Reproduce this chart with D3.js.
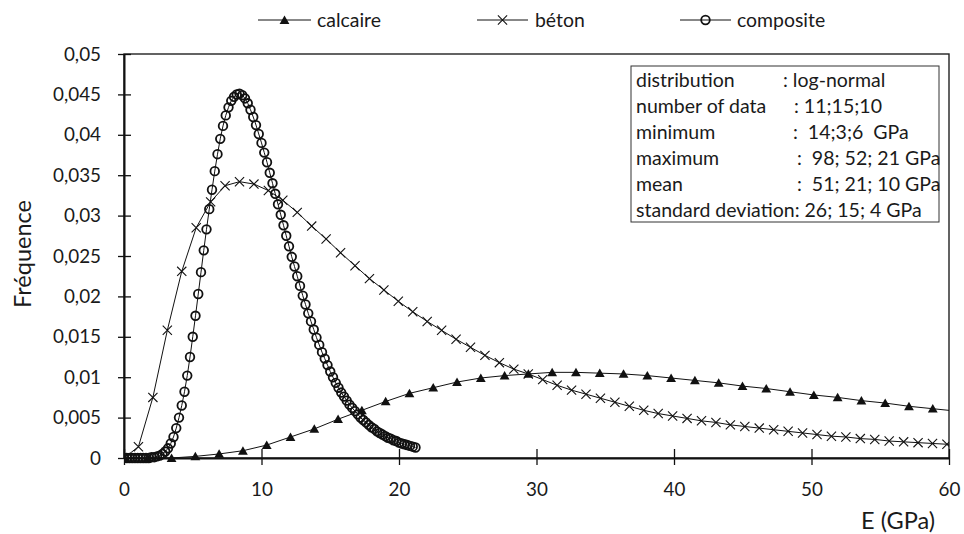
<!DOCTYPE html>
<html><head><meta charset="utf-8">
<script src="https://cdn.jsdelivr.net/npm/d3@7"></script>
<style>
html,body{margin:0;padding:0;background:#fff;}
svg{display:block;font-family:Lato,'Open Sans',sans-serif;}
text{fill:#1a1a1a;white-space:pre;}
</style></head><body>
<svg id="chart" width="964" height="534"></svg>
<script>
// ---------- DATA ----------
const seriesNames = ["calcaire", "béton", "composite"];

const calcaireX = [0, 1.73, 3.46, 5.19, 6.92, 8.65, 10.38, 12.11, 13.84, 15.57, 17.3, 19.03, 20.76, 22.49, 24.22, 25.95, 27.68, 29.41, 31.14, 32.87, 34.6, 36.33, 38.06, 39.79, 41.52, 43.25, 44.98, 46.71, 48.44, 50.17, 51.9, 53.63, 55.36, 57.09, 58.82, 60.55];
const calcaireY = [0, 0, 0, 0.0002, 0.0005, 0.0009, 0.0016, 0.0026, 0.0036, 0.0048, 0.0059, 0.0070, 0.0080, 0.0087, 0.0094, 0.0099, 0.0102, 0.0104, 0.0106, 0.0106, 0.0105, 0.0104, 0.0102, 0.0099, 0.0096, 0.0093, 0.0089, 0.0086, 0.0082, 0.0078, 0.0075, 0.0071, 0.0068, 0.0064, 0.0061, 0.0058];

const betonX = [0, 1.05, 2.1, 3.15, 4.2, 5.25, 6.3, 7.35, 8.4, 9.45, 10.5, 11.55, 12.6, 13.65, 14.7, 15.75, 16.8, 17.85, 18.9, 19.95, 21, 22.05, 23.1, 24.15, 25.2, 26.25, 27.3, 28.35, 29.4, 30.45, 31.5, 32.55, 33.6, 34.65, 35.7, 36.75, 37.8, 38.85, 39.9, 40.95, 42, 43.05, 44.1, 45.15, 46.2, 47.25, 48.3, 49.35, 50.4, 51.45, 52.5, 53.55, 54.6, 55.65, 56.7, 57.75, 58.8, 59.85, 60.9];
const betonY = [0, 0.0014, 0.0075, 0.0158, 0.0231, 0.0285, 0.0317, 0.0337, 0.0342, 0.0339, 0.0331, 0.0319, 0.0304, 0.0287, 0.0271, 0.0254, 0.0238, 0.0222, 0.0208, 0.0194, 0.0181, 0.0169, 0.0158, 0.0147, 0.0137, 0.0127, 0.0118, 0.0110, 0.0104, 0.0097, 0.0090, 0.0084, 0.0079, 0.0074, 0.0069, 0.0064, 0.0059, 0.0055, 0.0052, 0.0049, 0.0046, 0.0044, 0.0041, 0.0039, 0.0037, 0.0035, 0.0033, 0.0031, 0.0029, 0.0027, 0.0026, 0.0024, 0.0023, 0.0021, 0.0020, 0.0019, 0.0018, 0.0017, 0.0016];

const compositeX = [0, 0.2, 0.4, 0.6, 0.8, 1, 1.2, 1.4, 1.6, 1.8,
  2, 2.2, 2.4, 2.6, 2.8, 3, 3.2, 3.4, 3.6, 3.8,
  4, 4.2, 4.4, 4.6, 4.8, 5, 5.2, 5.4, 5.6, 5.8,
  6, 6.2, 6.4, 6.6, 6.8, 7, 7.2, 7.4, 7.6, 7.8,
  8, 8.2, 8.4, 8.6, 8.8, 9, 9.2, 9.4, 9.6, 9.8,
  10, 10.2, 10.4, 10.6, 10.8, 11, 11.2, 11.4, 11.6, 11.8,
  12, 12.2, 12.4, 12.6, 12.8, 13, 13.2, 13.4, 13.6, 13.8,
  14, 14.2, 14.4, 14.6, 14.8, 15, 15.2, 15.4, 15.6, 15.8,
  16, 16.2, 16.4, 16.6, 16.8, 17, 17.2, 17.4, 17.6, 17.8,
  18, 18.2, 18.4, 18.6, 18.8, 19, 19.2, 19.4, 19.6, 19.8,
  20, 20.2, 20.4, 20.6, 20.8, 21, 21.2];
const compositeY = [0, 0, 0, 0, 0, 0, 0, 0, 0, 0,
  0.0001, 0.0001, 0.0002, 0.0003, 0.0005, 0.0008, 0.0012, 0.0018, 0.0026, 0.0037,
  0.0050, 0.0065, 0.0082, 0.0102, 0.0125, 0.0150, 0.0176, 0.0203, 0.0230, 0.0257,
  0.0283, 0.0308, 0.0332, 0.0355, 0.0376, 0.0395, 0.0411, 0.0424, 0.0434, 0.0442,
  0.0447, 0.0450, 0.0451, 0.0449, 0.0445, 0.0439, 0.0431, 0.0422, 0.0412, 0.0401,
  0.0390, 0.0378, 0.0366, 0.0353, 0.0340, 0.0327, 0.0314, 0.0301, 0.0288, 0.0275,
  0.0262, 0.0249, 0.0237, 0.0225, 0.0213, 0.0201, 0.0190, 0.0179, 0.0169, 0.0159,
  0.0149, 0.0140, 0.0131, 0.0123, 0.0115, 0.0107, 0.0100, 0.0093, 0.0087, 0.0081,
  0.0076, 0.0071, 0.0066, 0.0062, 0.0058, 0.0054, 0.0050, 0.0047, 0.0044, 0.0041,
  0.0038, 0.0036, 0.0033, 0.0031, 0.0029, 0.0027, 0.0025, 0.0024, 0.0022, 0.0021,
  0.0019, 0.0018, 0.0017, 0.0016, 0.0015, 0.0014, 0.0013];

const xTicks = [0, 10, 20, 30, 40, 50, 60];
const xTickLabels = ["0", "10", "20", "30", "40", "50", "60"];
const yTicks = [0, 0.005, 0.01, 0.015, 0.02, 0.025, 0.03, 0.035, 0.04, 0.045, 0.05];
const yTickLabels = ["0", "0,005", "0,01", "0,015", "0,02", "0,025", "0,03", "0,035", "0,04", "0,045", "0,05"];
const xTitle = "E (GPa)";
const yTitle = "Fréquence";

const infoLabels = ["distribution", "number of data", "minimum", "maximum", "mean", "standard deviation: 26; 15; 4 GPa"];
const infoValues = [": log-normal", ": 11;15;10", ":  14;3;6  GPa", ":  98; 52; 21 GPa", ":  51; 21; 10 GPa", ""];

// ---------- LAYOUT ----------
const W = 964, H = 534;
const P = {l: 124, r: 949, t: 54, b: 458};
const svg = d3.select("#chart");
const ink = "#111";

function fitSize(str, target) {
  const t = svg.append("text").attr("font-size", 100).text(str);
  const w = t.node().getComputedTextLength();
  t.remove();
  return 100 * target / w;
}
const tickFS = fitSize("0,045", 48);
const legFS = fitSize("calcaire", 64);
const infoFS = fitSize("standard deviation: 26; 15; 4 GPa", 286);
const titleFS = fitSize("Fréquence", 108);
const xTitleFS = fitSize(xTitle, 74);

const x = d3.scaleLinear().domain([0, 60]).range([P.l, P.r]);
const y = d3.scaleLinear().domain([0, 0.05]).range([P.b, P.t]);

svg.append("rect").attr("width", W).attr("height", H).attr("fill", "#fff");

svg.append("defs").append("clipPath").attr("id", "clip")
  .append("rect").attr("x", P.l).attr("y", P.t - 10).attr("width", P.r - P.l).attr("height", P.b - P.t + 20);

// plot border
svg.append("rect").attr("x", P.l).attr("y", P.t).attr("width", P.r - P.l).attr("height", P.b - P.t)
  .attr("fill", "none").attr("stroke", "#222").attr("stroke-width", 1.4);

// axes
const yAxis = svg.append("g").attr("transform", `translate(${P.l},0)`)
  .call(d3.axisLeft(y).tickValues(yTicks).tickFormat((d, i) => yTickLabels[i]).tickSizeOuter(0));
yAxis.select(".domain").attr("stroke", ink).attr("stroke-width", 2);
yAxis.selectAll(".tick line").attr("x1", 7).attr("x2", -6).attr("stroke", ink).attr("stroke-width", 1.3);
yAxis.selectAll(".tick text").attr("x", -23).attr("font-size", tickFS).attr("font-family", "Lato").attr("fill", "#1a1a1a");

const xAxis = svg.append("g").attr("transform", `translate(0,${P.b})`)
  .call(d3.axisBottom(x).tickValues(xTicks).tickFormat((d, i) => xTickLabels[i]).tickSizeOuter(0));
xAxis.select(".domain").attr("stroke", ink).attr("stroke-width", 2);
xAxis.selectAll(".tick line").attr("y1", -9).attr("y2", 7).attr("stroke", ink).attr("stroke-width", 1.3);
xAxis.selectAll(".tick text").attr("y", 25).attr("font-size", tickFS).attr("font-family", "Lato").attr("fill", "#1a1a1a");

// titles
svg.append("text").attr("x", 935).attr("y", 529).attr("text-anchor", "end")
  .attr("font-size", xTitleFS).text(xTitle);
svg.append("text").attr("transform", `translate(31,254) rotate(-90)`).attr("text-anchor", "middle")
  .attr("font-size", titleFS).text(yTitle);

// info box
svg.append("rect").attr("x", 631).attr("y", 66).attr("width", 308).attr("height", 156)
  .attr("fill", "#fff").attr("stroke", "#333").attr("stroke-width", 1);
const infoBase = [87, 113, 139, 165, 190.5, 216.5];
const infoValX = [783, 794, 793, 797, 797, 797];
infoLabels.forEach((s, i) => {
  svg.append("text").attr("x", 636).attr("y", infoBase[i]).attr("font-size", infoFS).text(s);
  if (infoValues[i]) svg.append("text").attr("x", infoValX[i]).attr("y", infoBase[i]).attr("font-size", infoFS).text(infoValues[i]);
});

// markers
const triPath = "M0,-4.6L4.9,3.9L-4.9,3.9Z";
const crossPath = "M-4.6,-4.6L4.6,4.6M-4.6,4.6L4.6,-4.6";
function drawMarker(g, kind, cx, cy) {
  if (kind === 0) g.append("path").attr("d", triPath).attr("transform", `translate(${cx},${cy})`).attr("fill", ink);
  else if (kind === 1) g.append("path").attr("d", crossPath).attr("transform", `translate(${cx},${cy})`).attr("fill", "none").attr("stroke", ink).attr("stroke-width", 1.1);
  else g.append("circle").attr("cx", cx).attr("cy", cy).attr("r", 4.3).attr("fill", "none").attr("stroke", ink).attr("stroke-width", 1.8);
}

const series = [
  {xs: calcaireX, ys: calcaireY},
  {xs: betonX, ys: betonY},
  {xs: compositeX, ys: compositeY}
];
const plot = svg.append("g").attr("clip-path", "url(#clip)");
const line = d3.line().x(d => x(d[0])).y(d => y(d[1]));
series.forEach((s, k) => {
  const pts = s.xs.map((v, i) => [v, s.ys[i]]);
  const g = plot.append("g");
  g.append("path").attr("d", line(pts)).attr("fill", "none").attr("stroke", ink).attr("stroke-width", 1);
  pts.forEach(p => drawMarker(g, k, x(p[0]), y(p[1])));
});

// legend
const legItems = [{x0: 258, x1: 311, tx: 317}, {x0: 477, x1: 528, tx: 535}, {x0: 680, x1: 731, tx: 737}];
const legY = 20;
legItems.forEach((L, k) => {
  const g = svg.append("g");
  g.append("line").attr("x1", L.x0).attr("x2", L.x1).attr("y1", legY).attr("y2", legY).attr("stroke", ink).attr("stroke-width", 1);
  drawMarker(g, k, (L.x0 + L.x1) / 2, legY);
  g.append("text").attr("x", L.tx).attr("y", legY).attr("dy", "0.35em").attr("font-size", legFS).text(seriesNames[k]);
});
</script>
</body></html>
